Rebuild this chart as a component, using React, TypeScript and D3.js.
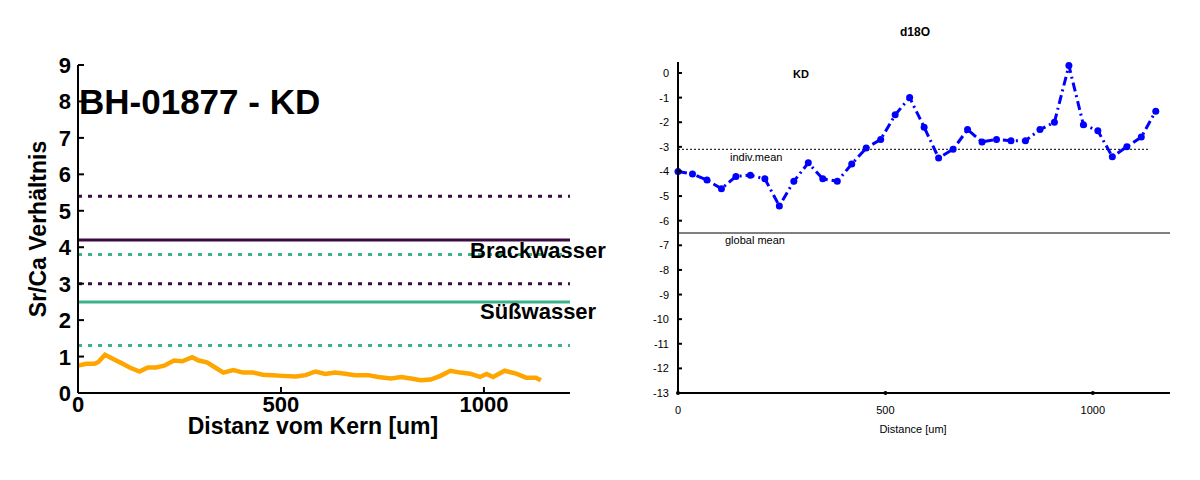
import React from "react";
import * as d3 from "d3";

const orangeZx = [48,73,98,110,130,155,180,205,235,260,285,310,340,365,395,415,440,465,490,520,550,580,610,640,670,710,740,770,800,830,860,890,930,960,1000,1030,1060,1090,1120,1150,1180,1210,1240,1270,1290,1310,1345,1380,1410,1440,1455];
const orangeVals = [0.75,0.8,0.8,0.85,1.05,0.93,0.82,0.7,0.59,0.7,0.7,0.75,0.89,0.87,0.98,0.89,0.84,0.7,0.56,0.63,0.56,0.56,0.5,0.49,0.47,0.45,0.49,0.59,0.52,0.56,0.53,0.49,0.49,0.44,0.4,0.44,0.4,0.35,0.37,0.47,0.61,0.56,0.53,0.44,0.52,0.44,0.61,0.53,0.42,0.42,0.35];
const orangeX = orangeZx.map(z => (z - 48) / 1.234);
const refLines = [
  { v: 5.4, c: "#3b0a45", dash: true },
  { v: 4.2, c: "#3b0a45", dash: false },
  { v: 3.8, c: "#3cb38a", dash: true },
  { v: 3.0, c: "#3b0a45", dash: true },
  { v: 2.5, c: "#3cb38a", dash: false },
  { v: 1.3, c: "#3cb38a", dash: true },
];
const d18O = [-4.0,-4.1,-4.35,-4.7,-4.2,-4.15,-4.3,-5.4,-4.4,-3.65,-4.3,-4.4,-3.7,-3.05,-2.7,-1.7,-1.0,-2.2,-3.45,-3.1,-2.3,-2.8,-2.7,-2.75,-2.75,-2.3,-2.0,0.3,-2.1,-2.35,-3.4,-3.0,-2.6,-1.55];
const d18X = d18O.map((_, i) => i * 34.9);
const leftYTicks = [0,1,2,3,4,5,6,7,8,9];
const leftXTicks = [0,500,1000];
const rightYTicks = d3.range(0, -14, -1);

export default function App() {
  const lx = d3.scaleLinear().domain([0, 1212]).range([78, 570]);
  const ly = d3.scaleLinear().domain([0, 9]).range([393, 65]);
  const rx = d3.scaleLinear().domain([0, 1186]).range([678, 1170]);
  const ry = d3.scaleLinear().domain([0, -13]).range([73, 393]);
  const oLine = d3.line<number>().x((_, i) => lx(orangeX[i])).y(d => ly(d))(orangeVals) || "";
  const bLine = d3.line<number>().x((_, i) => rx(d18X[i])).y(d => ry(d))(d18O) || "";
  const bf = "Arial, 'Liberation Sans', sans-serif";
  return (
    <svg width={1200} height={480} style={{ position: "absolute", left: 0, top: 0, background: "#fff" }} fontFamily={bf}>
      {refLines.map((r, i) => (
        <line key={i} x1={78} x2={570} y1={ly(r.v)} y2={ly(r.v)} stroke={r.c} strokeWidth={3} strokeDasharray={r.dash ? "4,6" : undefined} />
      ))}
      <path d={oLine} fill="none" stroke="#ffa500" strokeWidth={4.5} />
      <line x1={78} x2={78} y1={65} y2={393} stroke="#000" strokeWidth={2} />
      <line x1={78} x2={570} y1={393} y2={393} stroke="#000" strokeWidth={2} />
      {leftYTicks.map(t => (
        <g key={t}>
          <line x1={78} x2={84} y1={ly(t)} y2={ly(t)} stroke="#000" strokeWidth={2} />
          <text x={71} y={ly(t) + 8} textAnchor="end" fontSize={22} fontWeight="bold">{t}</text>
        </g>
      ))}
      {leftXTicks.map(t => (
        <g key={t}>
          <line x1={lx(t)} x2={lx(t)} y1={393} y2={387} stroke="#000" strokeWidth={2} />
          <text x={lx(t)} y={412} textAnchor="middle" fontSize={22} fontWeight="bold">{t}</text>
        </g>
      ))}
      <text x={313} y={434} textAnchor="middle" fontSize={23} fontWeight="bold">Distanz vom Kern [um]</text>
      <text transform="translate(46,229) rotate(-90)" textAnchor="middle" fontSize={23} fontWeight="bold">Sr/Ca Verhältnis</text>
      <text x={79} y={114} fontSize={35} fontWeight="bold">BH-01877 - KD</text>
      <text x={470} y={258} fontSize={22} fontWeight="bold">Brackwasser</text>
      <text x={480} y={319} fontSize={22} fontWeight="bold">Süßwasser</text>

      <text x={915} y={36} textAnchor="middle" fontSize={12} fontWeight="bold">d18O</text>
      <text x={801} y={78} textAnchor="middle" fontSize={11} fontWeight="bold">KD</text>
      <line x1={678} x2={1150} y1={ry(-3.1)} y2={ry(-3.1)} stroke="#000" strokeWidth={1} strokeDasharray="2,2" />
      <text x={730} y={161} fontSize={11}>indiv.mean</text>
      <line x1={678} x2={1170} y1={ry(-6.5)} y2={ry(-6.5)} stroke="#000" strokeWidth={1} />
      <text x={725} y={244} fontSize={11}>global mean</text>
      <path d={bLine} fill="none" stroke="#0000ff" strokeWidth={3} strokeDasharray="9,4,2,4" />
      {d18O.map((v, i) => <circle key={i} cx={rx(d18X[i])} cy={ry(v)} r={3.5} fill="#0000ff" />)}
      <line x1={678} x2={678} y1={62} y2={393} stroke="#000" strokeWidth={2} />
      <line x1={678} x2={1170} y1={393} y2={393} stroke="#000" strokeWidth={2} />
      {rightYTicks.map(t => (
        <g key={t}>
          <line x1={678} x2={682} y1={ry(t)} y2={ry(t)} stroke="#000" strokeWidth={2} />
          <text x={669} y={ry(t) + 4} textAnchor="end" fontSize={11}>{t}</text>
        </g>
      ))}
      {[0, 500, 1000].map(t => (
        <g key={t}>
          <circle cx={rx(t)} cy={393} r={2} fill="#000" />
          <text x={rx(t)} y={414} textAnchor="middle" fontSize={11}>{t}</text>
        </g>
      ))}
      <text x={913} y={433} textAnchor="middle" fontSize={11}>Distance [um]</text>
    </svg>
  );
}
